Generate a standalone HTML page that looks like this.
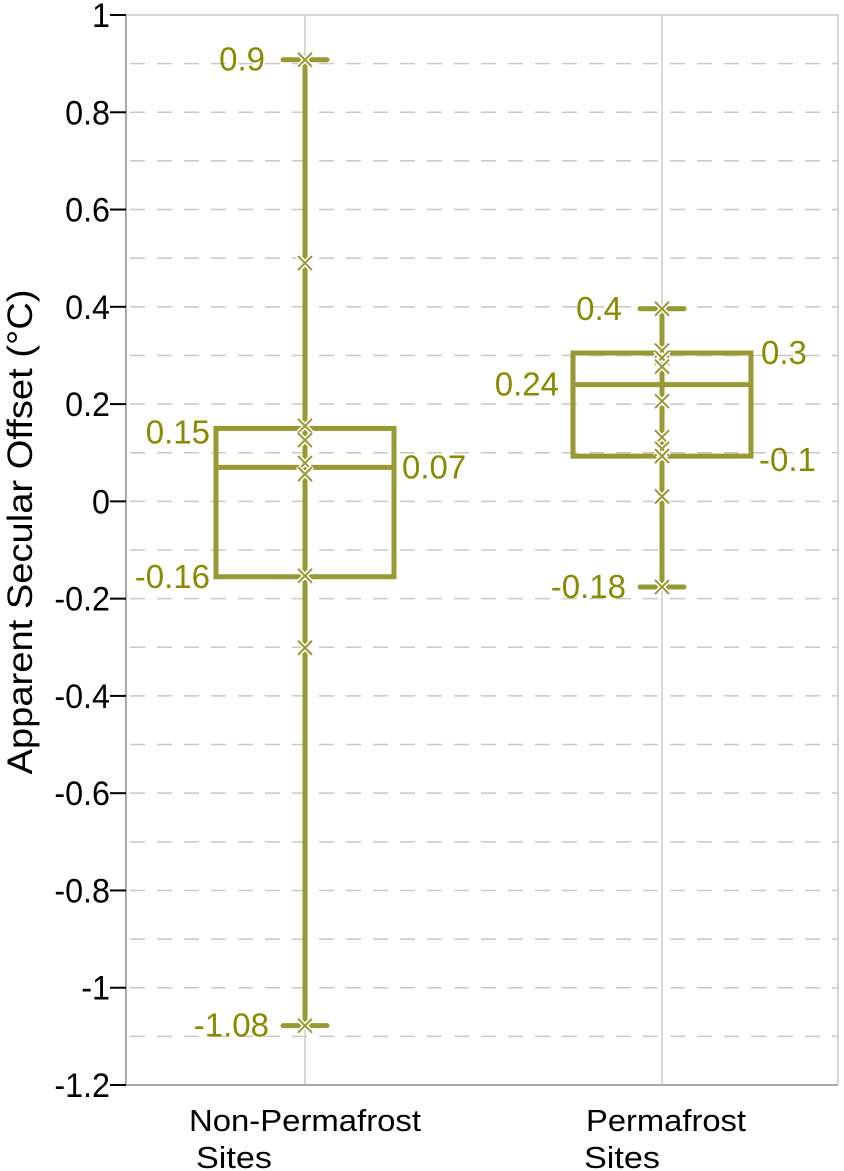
<!DOCTYPE html>
<html><head><meta charset="utf-8"><style>
body{margin:0;background:#fff}
svg{display:block;font-family:"Liberation Sans",sans-serif}
</style></head><body>
<svg id="chart" width="844" height="1171" viewBox="0 0 844 1171" xmlns="http://www.w3.org/2000/svg">
<g id="grid"></g>
<g id="axes"></g>
<g id="boxes"></g>
<text transform="translate(32,532) rotate(-90)" text-anchor="middle" font-size="35" fill="#000" textLength="485" lengthAdjust="spacingAndGlyphs">Apparent Secular Offset (°C)</text>
</svg>
<script>
const categories = ["Non-Permafrost|Sites", "Permafrost|Sites"];
const whiskerMax = [0.908, 0.396];
const q3 = [0.15, 0.305];
const median = [0.07, 0.24];
const q1 = [-0.155, 0.093];
const whiskerMin = [-1.078, -0.176];
const points = [
  [0.908, 0.49, 0.155, 0.126, 0.079, 0.056, -0.153, -0.301, -1.078],
  [0.396, 0.31, 0.295, 0.277, 0.206, 0.132, 0.108, 0.093, 0.01, -0.176]
];
const labelsMax = ["0.9", "0.4"];
const labelsQ3 = ["0.15", "0.3"];
const labelsMed = ["0.07", "0.24"];
const labelsQ1 = ["-0.16", "-0.1"];
const labelsMin = ["-1.08", "-0.18"];
const yTicks = [1, 0.8, 0.6, 0.4, 0.2, 0, -0.2, -0.4, -0.6, -0.8, -1, -1.2];
const yTickLabels = ["1","0.8","0.6","0.4","0.2","0","-0.2","-0.4","-0.6","-0.8","-1","-1.2"];

const NS = "http://www.w3.org/2000/svg";
const L = 126, R = 838, T = 15, B = 1085, yMax = 1, yMin = -1.2;
const y = v => T + (yMax - v) / (yMax - yMin) * (B - T);
const x = i => [305, 662][i];
const C = "#999933", TC = "#8a8a00";
function mk(tag, attrs, parent) {
  const e = document.createElementNS(NS, tag);
  for (const k in attrs) e.setAttribute(k, attrs[k]);
  parent.appendChild(e); return e;
}
const grid = document.getElementById("grid"), axes = document.getElementById("axes"), boxes = document.getElementById("boxes");
for (let k = 1; k < 22; k++) {
  const v = yMax - k * 0.1;
  const g = mk("line", {x1: L, x2: R, y1: y(v), y2: y(v), stroke: "#c8c8c8", "stroke-width": 1.5, "stroke-dasharray": "15 12", "stroke-dashoffset": -4}, grid);
  
  
}
mk("line", {x1: L, x2: R, y1: T, y2: T, stroke: "#c8c8c8", "stroke-width": 1.5}, grid);
mk("line", {x1: R, x2: R, y1: T, y2: B, stroke: "#c8c8c8", "stroke-width": 1.5}, grid);
categories.forEach((c, i) => {
  mk("line", {x1: x(i), x2: x(i), y1: T, y2: B, stroke: "#cccccc", "stroke-width": 1.5}, grid);
});
mk("line", {x1: L, x2: L, y1: T, y2: B, stroke: "#aaaaaa", "stroke-width": 2}, axes);
mk("line", {x1: L, x2: R, y1: B, y2: B, stroke: "#aaaaaa", "stroke-width": 2}, axes);
yTicks.forEach((v, i) => {
  mk("line", {x1: L - 16, x2: L, y1: y(v), y2: y(v), stroke: "#000", "stroke-width": 2}, axes);
  const t = mk("text", {transform: `translate(${L - 16},${y(v) + 12}) scale(0.95,1)`, "text-anchor": "end", "font-size": 34, fill: "#000"}, axes);
  t.textContent = yTickLabels[i];
  
  
});
categories.forEach((c, i) => {
  const parts = c.split("|");
  const cx = i === 0 ? 305 : 666;
  const t1 = mk("text", {x: cx, y: 1131, "text-anchor": "middle", "font-size": 31, fill: "#000", textLength: i === 0 ? 232 : 160, lengthAdjust: "spacingAndGlyphs"}, axes);
  t1.textContent = parts[0];
  
  
  const t2 = mk("text", {x: i === 0 ? 196 : 584, y: 1168, "font-size": 31, fill: "#000", textLength: 76, lengthAdjust: "spacingAndGlyphs"}, axes);
  t2.textContent = parts[1];
  
  
});
const sw = 5, half = 89, cap = 22;
function label(txt, lx, ly, anchor, name) {
  const t = mk("text", {transform: `translate(${lx},${ly + 11}) scale(1,1)`, "text-anchor": anchor, "font-size": 33, fill: TC}, boxes);
  t.textContent = txt;
  
  
}
categories.forEach((c, i) => {
  const cx = x(i);
  const g = mk("g", {}, boxes);
  
  
  mk("line", {x1: cx, x2: cx, y1: y(whiskerMax[i]), y2: y(whiskerMin[i]), stroke: C, "stroke-width": sw}, g);
  mk("line", {x1: cx - cap, x2: cx + cap, y1: y(whiskerMax[i]), y2: y(whiskerMax[i]), stroke: C, "stroke-width": sw, "stroke-linecap": "round"}, g);
  mk("line", {x1: cx - cap, x2: cx + cap, y1: y(whiskerMin[i]), y2: y(whiskerMin[i]), stroke: C, "stroke-width": sw, "stroke-linecap": "round"}, g);
  mk("rect", {x: cx - half, y: y(q3[i]), width: 2 * half, height: y(q1[i]) - y(q3[i]), fill: "none", stroke: C, "stroke-width": sw}, g);
  mk("line", {x1: cx - half, x2: cx + half, y1: y(median[i]), y2: y(median[i]), stroke: C, "stroke-width": sw}, g);
  points[i].forEach(v => {
    const py = y(v), s = 7;
    mk("path", {d: `M${cx-s},${py-s}L${cx+s},${py+s}M${cx-s},${py+s}L${cx+s},${py-s}`, stroke: "#fff", "stroke-width": 5}, g);
    const p2 = mk("path", {d: `M${cx-s},${py-s}L${cx+s},${py+s}M${cx-s},${py+s}L${cx+s},${py-s}`, stroke: C, "stroke-width": 2}, g);
    
    
  });
  label(labelsMax[i], cx - cap - 18, y(whiskerMax[i]), "end", "max-label");
  label(labelsMin[i], cx - cap - 14, y(whiskerMin[i]), "end", "min-label");
  if (i === 0) {
    label(labelsQ3[i], cx - half - 6, y(q3[i]) + 4, "end", "q3-label");
    label(labelsMed[i], cx + half + 8, y(median[i]), "start", "median-label");
    label(labelsQ1[i], cx - half - 6, y(q1[i]), "end", "q1-label");
  } else {
    label(labelsQ3[i], cx + half + 10, y(q3[i]), "start", "q3-label");
    label(labelsMed[i], cx - half - 14, y(median[i]), "end", "median-label");
    label(labelsQ1[i], cx + half + 8, y(q1[i]) + 4, "start", "q1-label");
  }
});
</script>
</body></html>
